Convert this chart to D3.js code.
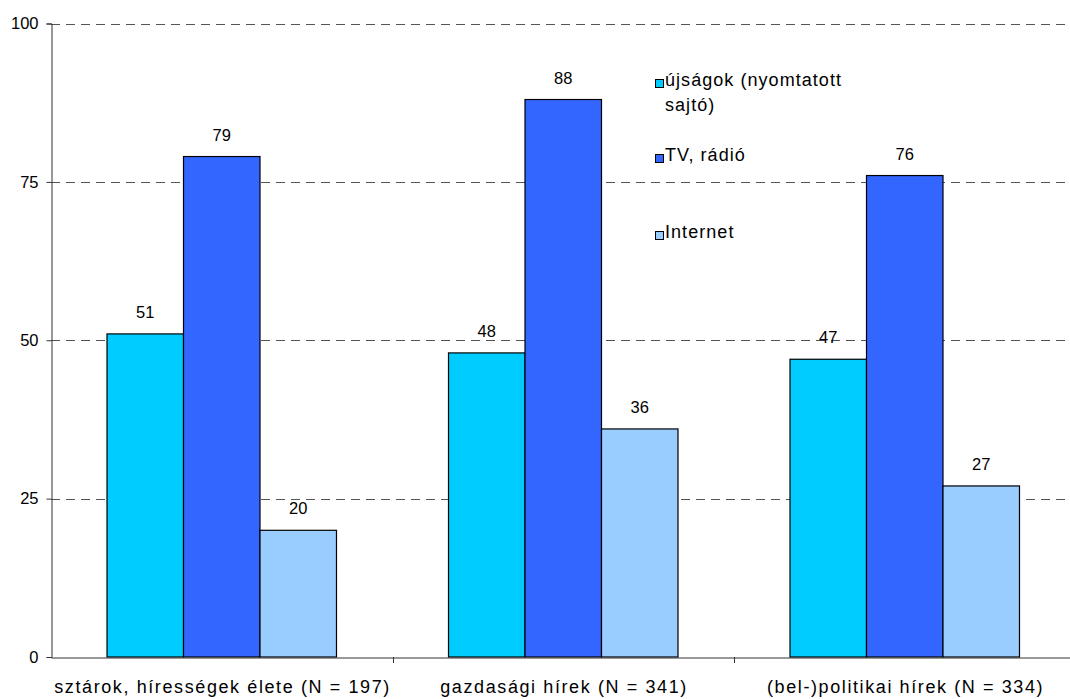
<!DOCTYPE html>
<html>
<head>
<meta charset="utf-8">
<script src="https://cdn.jsdelivr.net/npm/d3@7"></script>
<style>
  html, body { margin: 0; padding: 0; background: #fff; overflow: hidden; }
  svg { display: block; font-family: "Liberation Sans", Arial, sans-serif; }
</style>
</head>
<body>
<svg id="chart" width="1070" height="699"></svg>
<script>
// Media sources by news topic (percent of respondents)
const categories = [
  "sztárok, hírességek élete (N = 197)",
  "gazdasági hírek (N = 341)",
  "(bel-)politikai hírek (N = 334)"
];
const seriesNames = ["újságok (nyomtatott sajtó)", "TV, rádió", "Internet"];
const seriesColors = ["#00CCFF", "#3366FF", "#99CCFF"];
const newspapers = [51, 48, 47];
const tvRadio = [79, 88, 76];
const internet = [20, 36, 27];
const yTicks = [0, 25, 50, 75, 100];

const seriesValues = [newspapers, tvRadio, internet];

const margin = { left: 51, top: 23.5, bottom: 657, right: 1075.5 };
const svg = d3.select("#chart");

const x = d3.scaleBand()
  .domain(categories)
  .range([margin.left, margin.right])
  .paddingInner(0).paddingOuter(0);

const groupFrac = 0.672;
const x1 = d3.scaleBand()
  .domain(d3.range(seriesNames.length))
  .range([0, x.bandwidth() * groupFrac])
  .padding(0);

const y = d3.scaleLinear().domain([0, 100]).range([margin.bottom, margin.top]);

// dashed gridlines
svg.append("g")
  .selectAll("line")
  .data(yTicks.filter(t => t > 0))
  .join("line")
  .attr("x1", margin.left).attr("x2", margin.right)
  .attr("y1", d => Math.round(y(d)) + 0.5).attr("y2", d => Math.round(y(d)) + 0.5)
  .attr("stroke", "#555")
  .attr("stroke-width", 1)
  .attr("stroke-dasharray", "9,6");

// y axis
const yAxis = svg.append("g")
  .attr("transform", `translate(${margin.left + 0.5},0)`)
  .call(d3.axisLeft(y).tickValues(yTicks).tickSize(5).tickPadding(8).tickFormat(d3.format("d")));
yAxis.select(".domain").attr("stroke", "#333");
yAxis.selectAll(".tick line").attr("stroke", "#333");
yAxis.selectAll(".tick text")
  .attr("font-size", "16.5px")
  .attr("font-family", "Liberation Sans, Arial, sans-serif")
  .attr("fill", "#000");

// bars
const groups = svg.append("g")
  .selectAll("g")
  .data(categories)
  .join("g")
  .attr("transform", c => `translate(${x(c) + x.bandwidth() * (1 - groupFrac) / 2},0)`);

groups.selectAll("rect")
  .data((c, ci) => seriesValues.map((vals, si) => ({ si, v: vals[ci] })))
  .join("rect")
  .attr("x", d => x1(d.si))
  .attr("y", d => y(d.v))
  .attr("width", x1.bandwidth())
  .attr("height", d => y(0) - y(d.v))
  .attr("fill", d => seriesColors[d.si])
  .attr("stroke", "#000")
  .attr("stroke-width", 1.2);

groups.selectAll("text")
  .data((c, ci) => seriesValues.map((vals, si) => ({ si, v: vals[ci] })))
  .join("text")
  .attr("x", d => x1(d.si) + x1.bandwidth() / 2)
  .attr("y", d => y(d.v) - 16)
  .attr("text-anchor", "middle")
  .attr("font-size", "16.5px")
  .attr("fill", "#000")
  .text(d => d.v);

// x axis
const xAxis = svg.append("g")
  .attr("transform", `translate(0,${margin.bottom + 0.5})`)
  .call(d3.axisBottom(x).tickSize(0).tickPadding(23));
xAxis.select(".domain").attr("stroke", "#333");
xAxis.selectAll(".tick text")
  .attr("font-size", "18px")
  .attr("letter-spacing", "1.6px")
  .attr("dx", "0.8px")
  .attr("font-family", "Liberation Sans, Arial, sans-serif")
  .attr("fill", "#000");

// category boundary ticks
svg.append("g")
  .selectAll("line")
  .data(categories.slice(1))
  .join("line")
  .attr("x1", c => Math.round(x(c)) + 0.5).attr("x2", c => Math.round(x(c)) + 0.5)
  .attr("y1", margin.bottom).attr("y2", margin.bottom + 6)
  .attr("stroke", "#333");

// legend
const legendRows = [
  { lines: ["újságok (nyomtatott", "sajtó)"], top: 79 },
  { lines: ["TV, rádió"], top: 154 },
  { lines: ["Internet"], top: 231 }
];
const legend = svg.append("g");
legendRows.forEach((row, i) => {
  legend.append("rect")
    .attr("x", 655.5).attr("y", row.top + 0.5)
    .attr("width", 8).attr("height", 8)
    .attr("fill", seriesColors[i])
    .attr("stroke", "#000").attr("stroke-width", 1);
  row.lines.forEach((ln, j) => {
    legend.append("text")
      .attr("x", 665)
      .attr("y", row.top + 7 + j * 25)
      .attr("font-size", "18px")
      .attr("letter-spacing", "1.05px")
      .attr("fill", "#000")
      .text(ln);
  });
});
</script>
</body>
</html>
